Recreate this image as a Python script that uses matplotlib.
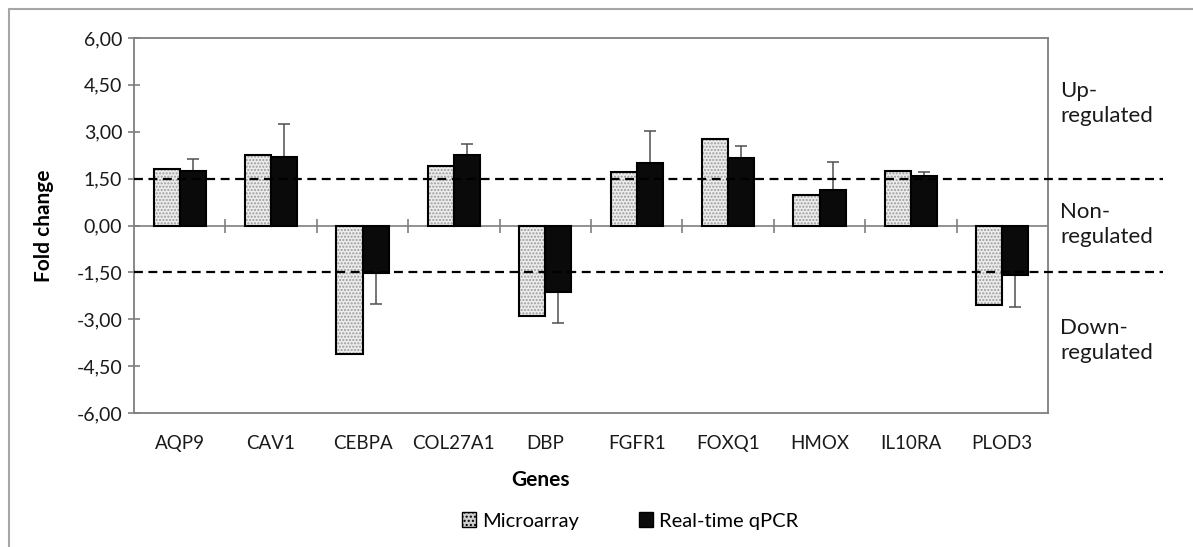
import matplotlib.pyplot as plt
import matplotlib.transforms as mtransforms
from matplotlib.patches import Rectangle, Patch
from matplotlib.ticker import FuncFormatter
import numpy as np

plt.rcParams['font.family'] = ['Lato', 'DejaVu Sans']

# valores
genes = ['AQP9', 'CAV1', 'CEBPA', 'COL27A1', 'DBP', 'FGFR1', 'FOXQ1', 'HMOX', 'IL10RA', 'PLOD3']
microarray = [1.82, 2.25, -4.10, 1.92, -2.91, 1.71, 2.78, 0.99, 1.76, -2.53]
qpcr = [1.76, 2.19, -1.52, 2.27, -2.12, 2.00, 2.16, 1.15, 1.59, -1.57]
qpcr_err = [0.38, 1.07, 0.99, 0.33, 1.00, 1.03, 0.37, 0.88, 0.11, 1.05]
limiar = 1.5
regioes = [('Up-\nregulated', 3.91), ('Non-\nregulated', 0.03), ('Down-\nregulated', -3.69)]

fig = plt.figure(figsize=(11.93, 5.47), dpi=100)
ax = fig.add_axes([134 / 1193, 1 - 413 / 547, (1048 - 134) / 1193, (413 - 38) / 547])

x = np.arange(len(genes))
w = 0.285
qp = np.array(qpcr)
err = np.array(qpcr_err)
yerr = [np.where(qp < 0, err, 0), np.where(qp > 0, err, 0)]

# barras microarray (pontilhado cinza + contorno preto)
ax.bar(x - w / 2, microarray, w, color='#ececec', edgecolor='#9a9a9a', hatch='.....',
       linewidth=0, zorder=3)
ax.bar(x - w / 2, microarray, w, fill=False, edgecolor='black', linewidth=1.5, zorder=4)
# barras qPCR
ax.errorbar(x + w / 2, qpcr, yerr=yerr, fmt='none', ecolor='#505050', elinewidth=1.1,
            capsize=4, capthick=1.1, zorder=2)
ax.bar(x + w / 2, qpcr, w, color='#0a0a0a', edgecolor='black', linewidth=1.5, zorder=4)

# linha do zero com marcas entre categorias
ax.axhline(0, color='#7f7f7f', linewidth=1.2, zorder=1)
ax.plot(x[:-1] + 0.5, np.zeros(len(x) - 1), linestyle='none', marker='|', markersize=10,
        color='#7f7f7f', markeredgewidth=1.2, zorder=1)

# limiares tracejados estendidos para a direita
for yv in (limiar, -limiar):
    ax.plot([0, 1.126], [yv, yv], transform=ax.get_yaxis_transform(), color='black',
            linestyle=(0, (4, 2.5)), linewidth=1.6, clip_on=False, zorder=5)

trans = mtransforms.blended_transform_factory(ax.transAxes, ax.transData)
for txt, yv in regioes:
    ax.text(1.013, yv, txt, transform=trans, ha='left', va='center', fontsize=16,
            linespacing=1.3, color='#1a1a1a')

ax.set_xlim(-0.5, len(genes) - 0.5)
ax.set_ylim(-6, 6)
ax.set_yticks(np.arange(-6, 6.01, 1.5))
ax.yaxis.set_major_formatter(FuncFormatter(lambda v, p: f'{v:.2f}'.replace('.', ',')))
ax.set_xticks(x)
ax.set_xticklabels(genes)
ax.tick_params(axis='x', length=0, pad=16, labelsize=13.5, labelcolor='#1a1a1a')
ax.tick_params(axis='y', direction='inout', length=9, width=1.2, color='#7f7f7f',
               labelsize=14, labelcolor='#1a1a1a', pad=4)
for s in ax.spines.values():
    s.set_color('#7f7f7f')
    s.set_linewidth(1.3)

ax.set_ylabel('Fold change', fontsize=15, fontweight='bold', labelpad=16)
fig.text(541 / 1193, 1 - 480 / 547, 'Genes', ha='center', va='center', fontsize=15,
         fontweight='bold')

handles = [Patch(facecolor='#d0d0d0', edgecolor='black', hatch='....', label='Microarray'),
           Patch(facecolor='#0a0a0a', edgecolor='black', label='Real-time qPCR')]
fig.legend(handles=handles, loc='center', bbox_to_anchor=(630 / 1193, 1 - 521 / 547), ncol=2,
           frameon=False, fontsize=14.5, handlelength=0.7, handleheight=0.7,
           handletextpad=0.3, columnspacing=3.0)

# borda externa do gráfico
fig.patches.append(Rectangle((9 / 1193, -0.05), 1.1, 1 - 9 / 547 + 0.05, transform=fig.transFigure,
                             fill=False, edgecolor='#a6a6a6', linewidth=1.5))

fig.savefig('out.png', dpi=100)
